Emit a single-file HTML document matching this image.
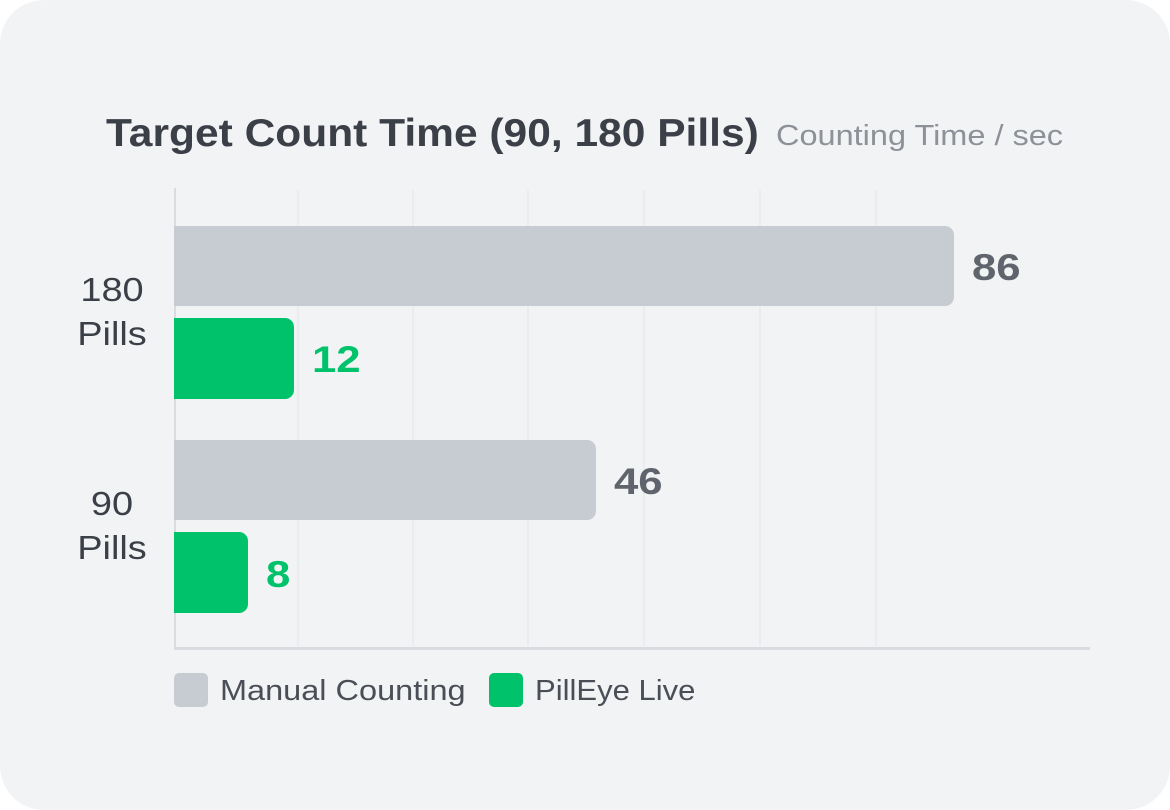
<!DOCTYPE html>
<html><head><meta charset="utf-8"><style>
html,body{margin:0;padding:0;background:#fff;}
body{width:1170px;height:810px;position:relative;overflow:hidden;font-family:"Liberation Sans",sans-serif;}
.card{position:absolute;left:0;top:0;width:1170px;height:810px;background:#f2f3f5;border-radius:44px;}
.abs{position:absolute;white-space:nowrap;transform-origin:0 50%;}
.t{left:106px;top:112px;font-size:39px;font-weight:bold;color:#3b3f47;transform:scaleX(1.09);}
.st{left:776px;top:120px;font-size:29px;color:#8d9198;transform:scaleX(1.12);}
.g{background:#ebecef;width:2px;top:190px;height:456px;}
.bar{left:174px;border-radius:0 9px 9px 0;}
.gr{background:#c7cbd2;}
.gn{background:#00c26a;}
.v{font-size:37px;font-weight:bold;transform:scaleX(1.18);}
.yl{font-size:33px;color:#3b3f47;text-align:center;width:100px;line-height:44px;transform:scaleX(1.15);transform-origin:50% 50%;}
.lg{font-size:29px;color:#4a4e56;top:675px;}
.sw{width:34px;height:34px;border-radius:5px;top:673px;}
</style></head><body>
<div class="card">
<div class="abs t">Target Count Time (90, 180 Pills)</div>
<div class="abs st">Counting Time / sec</div>
<div class="abs g" style="left:297px"></div>
<div class="abs g" style="left:412px"></div>
<div class="abs g" style="left:527px"></div>
<div class="abs g" style="left:643px"></div>
<div class="abs g" style="left:759px"></div>
<div class="abs g" style="left:875px"></div>
<div class="abs" style="left:174px;top:188px;width:2px;height:462px;background:#d8dbe0"></div>
<div class="abs" style="left:174px;top:647px;width:916px;height:3px;background:#d8dbe0"></div>
<div class="abs bar gr" style="top:226px;width:780px;height:80px"></div>
<div class="abs bar gn" style="top:318px;width:120px;height:81px"></div>
<div class="abs bar gr" style="top:440px;width:422px;height:80px"></div>
<div class="abs bar gn" style="top:532px;width:74px;height:81px"></div>
<div class="abs v" style="left:972px;top:247px;color:#60646c">86</div>
<div class="abs v" style="left:312px;top:339px;color:#00c26a">12</div>
<div class="abs v" style="left:614px;top:461px;color:#60646c">46</div>
<div class="abs v" style="left:266px;top:554px;color:#00c26a">8</div>
<div class="abs yl" style="left:62px;top:268px">180<br>Pills</div>
<div class="abs yl" style="left:62px;top:482px">90<br>Pills</div>
<div class="abs sw" style="left:174px;background:#c7cbd2"></div>
<div class="abs lg" style="left:220px;transform:scaleX(1.12)">Manual Counting</div>
<div class="abs sw" style="left:489px;background:#00c26a"></div>
<div class="abs lg" style="left:535px;transform:scaleX(1.07)">PillEye Live</div>
</div>
</body></html>
